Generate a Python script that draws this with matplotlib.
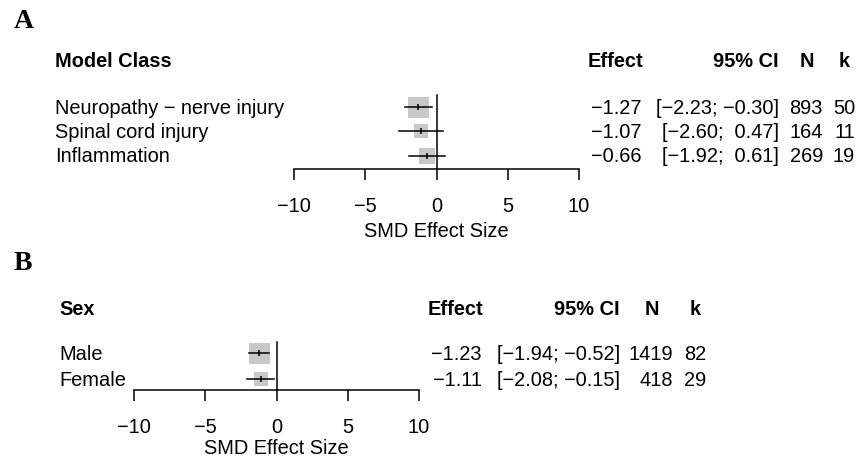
import matplotlib
matplotlib.use("Agg")
import matplotlib.pyplot as plt
from matplotlib import transforms

plt.rcParams['font.family'] = ['Liberation Sans', 'DejaVu Sans']
plt.rcParams['axes.unicode_minus'] = True

# ---- Panel A: subgroup analysis by model class ----
class_labels = ["Neuropathy \u2212 nerve injury", "Spinal cord injury", "Inflammation"]
class_smd = [-1.27, -1.07, -0.66]
class_lo = [-2.23, -2.60, -1.92]
class_hi = [-0.30, 0.47, 0.61]
class_n = [893, 164, 269]
class_k = [50, 11, 19]
class_weight = [1.0, 0.44, 0.58]   # relative study weight (box area)

# ---- Panel B: subgroup analysis by sex ----
sex_labels = ["Male", "Female"]
sex_smd = [-1.23, -1.11]
sex_lo = [-1.94, -2.08]
sex_hi = [-0.52, -0.15]
sex_n = [1419, 418]
sex_k = [82, 29]
sex_weight = [1.0, 0.51]

x_ticks = [-10, -5, 0, 5, 10]

W, H = 859, 459
FS = 14.4
fig = plt.figure(figsize=(W / 100, H / 100), dpi=100)


def fx(px):
    return px / W


def fy(py):
    return 1 - py / H


def num(v):
    return f"{v:.2f}".replace("-", "\u2212")


def ci_text(lo, hi):
    return f"[{lo:5.2f}; {hi:5.2f}]".replace("-", "\u2212")


def forest(ax_left, axis_y, row0, row_gap, top_y, labels, smd, lo, hi, n, k,
           weight, label_x, col_eff, col_ci, col_n, col_nc, col_k, col_kc,
           header, header_y, panel, panel_y, zero_top, xlab_off):
    nrow = len(labels)
    y_bot = (axis_y - row0) / row_gap
    y_top = (top_y - row0) / row_gap
    ax = fig.add_axes([fx(ax_left), fy(axis_y), fx(285), (axis_y - top_y) / H])
    ax.set_xlim(-10, 10)
    ax.set_ylim(y_bot, y_top)
    for s in ("top", "left", "right"):
        ax.spines[s].set_visible(False)
    ax.spines["bottom"].set_linewidth(1.1)
    ax.set_yticks([])
    ax.set_xticks(x_ticks)
    ax.tick_params(axis="x", length=8, width=1.1, pad=12, labelsize=FS)
    ax.patch.set_alpha(0)

    # reference line at zero
    ax.plot([0, 0], [zero_top, y_bot], color="black", lw=1.1, clip_on=False)

    rows = list(range(nrow))
    base_box = 21 * 0.72  # points
    for i in rows:
        ax.plot([smd[i]], [i], marker="s", ls="none", color="#c8c8c8",
                ms=base_box * weight[i] ** 0.5, mew=0, zorder=2)
        ax.plot([lo[i], hi[i]], [i, i], color="black", lw=1.1, zorder=3)
        ax.plot([smd[i]], [i], marker="|", ls="none", color="black",
                ms=4.8, mew=1.1, zorder=4)

    ax.annotate("SMD Effect Size", xy=(0, 0), xycoords=("data", "axes fraction"),
                xytext=(0, -xlab_off * 0.72), textcoords="offset points",
                ha="center", va="baseline", fontsize=FS)

    tr = transforms.blended_transform_factory(fig.transFigure, ax.transData)
    tr = tr + transforms.ScaledTranslation(0, -7 / 100, fig.dpi_scale_trans)
    for i in rows:
        fig.text(fx(label_x), i, labels[i], transform=tr, ha="left",
                 va="baseline", fontsize=FS)
        fig.text(fx(col_eff), i, num(smd[i]), transform=tr, ha="right",
                 va="baseline", fontsize=FS)
        fig.text(fx(col_ci), i, ci_text(lo[i], hi[i]), transform=tr,
                 ha="right", va="baseline", fontsize=FS)
        fig.text(fx(col_n), i, str(n[i]), transform=tr, ha="right",
                 va="baseline", fontsize=FS)
        fig.text(fx(col_k), i, str(k[i]), transform=tr, ha="right",
                 va="baseline", fontsize=FS)

    hb = fy(header_y + 7)
    fig.text(fx(label_x), hb, header, ha="left", va="baseline",
             fontsize=FS, fontweight="bold")
    fig.text(fx(col_eff + 1), hb, "Effect", ha="right", va="baseline",
             fontsize=FS, fontweight="bold")
    fig.text(fx(col_ci), hb, "95% CI", ha="right", va="baseline",
             fontsize=FS, fontweight="bold")
    fig.text(fx(col_nc), hb, "N", ha="center", va="baseline",
             fontsize=FS, fontweight="bold")
    fig.text(fx(col_kc), hb, "k", ha="center", va="baseline",
             fontsize=FS, fontweight="bold")

    fig.text(fx(14), fy(panel_y), panel, ha="left", va="center",
             fontsize=20, fontweight="bold",
             family=["Liberation Serif", "DejaVu Serif"])
    return ax


forest(294, 169, 107.5, 24, 80, class_labels, class_smd, class_lo, class_hi,
       class_n, class_k, class_weight, 55, 642, 779, 823, 807, 855, 844,
       "Model Class", 60, "A", 22, -0.52, 68)

forest(134, 390, 352.5, 26, 330, sex_labels, sex_smd, sex_lo, sex_hi,
       sex_n, sex_k, sex_weight, 59, 482, 620, 673, 652, 706, 695,
       "Sex", 308, "B", 263, -0.42, 64)

fig.savefig("out.png", dpi=100)
